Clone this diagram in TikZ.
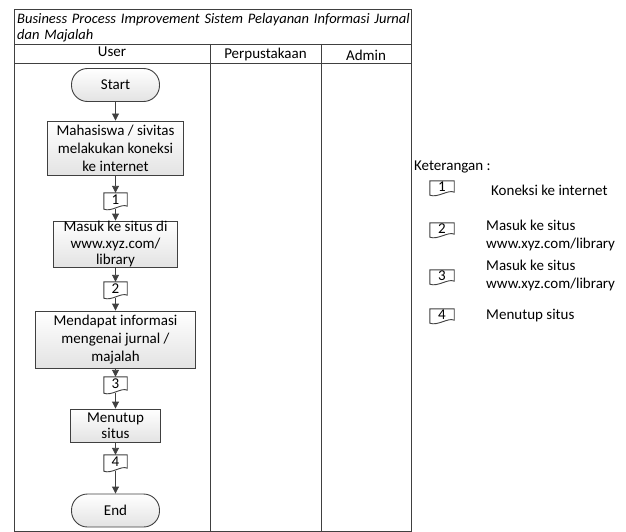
\documentclass[tikz,border=0pt]{standalone}
\usepackage{fontspec}
\setmainfont{Carlito}
\usetikzlibrary{arrows.meta}
\definecolor{lineclr}{HTML}{404040}
\definecolor{fillbot}{HTML}{E3E3E3}
\tikzset{
  body/.style={font=\fontsize{15}{18}\selectfont},
  lane/.style={draw=lineclr, line width=0.9pt},
  procbox/.style={body, draw=lineclr, line width=0.9pt, top color=white, bottom color=fillbot,
    inner sep=0pt, align=center},
  terminal/.style={procbox, rounded corners=16pt, minimum width=88pt, minimum height=33pt},
  docbox/.style={inner sep=0pt, minimum width=23pt, minimum height=16pt,
    font=\fontsize{15}{16}\selectfont},
  docline/.style={draw=lineclr, line width=0.9pt, fill=white},
  flow/.style={draw=lineclr, line width=0.9pt, -{Triangle[length=7pt,width=7pt]}},
}
% outline of the small document symbol around a named node
\newcommand\docoutline[1]{%
  \path[docline] (#1.north west) -- (#1.north east) -- ([yshift=3pt]#1.south east)
    .. controls ([xshift=-6pt,yshift=6pt]#1.south east) and ([xshift=8pt,yshift=-3pt]#1.south west)
    .. (#1.south west) -- cycle;}
\begin{document}
\begin{tikzpicture}[x=1pt,y=-1pt]
\useasboundingbox (0,0) rectangle (626,532);

% swimlane frame
\draw[lane] (14,9) rectangle (411,531);
\draw[lane] (14,44) -- (411,44);
\draw[lane] (14,63) -- (411,63);
\draw[lane] (210,44) -- (210,531);
\draw[lane] (321,44) -- (321,531);

\node[anchor=north west, inner sep=0pt, text width=394pt, align=left,
      font=\fontsize{14.5}{16.5}\selectfont\itshape] (title) at (17,13)
  {Business Process Improvement Sistem Pelayanan Informasi Jurnal dan Majalah};
\node[body] (hUser) at (112,52) {User};
\node[body] (hPerpus) at (265.5,55) {Perpustakaan};
\node[body] (hAdmin) at (366,55) {Admin};

% flow in the User lane
\node[terminal] (start) at (115.5,85) {Start};
\node[procbox, minimum width=136pt, minimum height=54pt] (b1) at (115.5,148)
  {Mahasiswa / sivitas\\melakukan koneksi\\ke internet};
\node[docbox] (d1) at (115.5,201) {};
\docoutline{d1}
\node[docbox] at (115.5,200) {1};
\node[procbox, minimum width=124pt, minimum height=46pt,
      font=\fontsize{15}{16.5}\selectfont] (b2) at (115.5,244)
  {Masuk ke situs di\\www.xyz.com/\\library};
\node[docbox] (d2) at (115.5,290) {};
\docoutline{d2}
\node[docbox] at (115.5,289) {2};
\node[procbox, minimum width=160pt, minimum height=57pt] (b3) at (115.5,339.5)
  {Mendapat informasi\\mengenai jurnal /\\majalah};
\node[docbox] (d3) at (115.5,385) {};
\docoutline{d3}
\node[docbox] at (115.5,384) {3};
\node[procbox, minimum width=90pt, minimum height=33pt,
      font=\fontsize{15}{16}\selectfont] (b4) at (115.5,425.5)
  {Menutup\\situs};
\node[docbox] (d4) at (115.5,463) {};
\docoutline{d4}
\node[docbox] at (115.5,462) {4};
\node[terminal] (end) at (115.5,510.5) {End};

\draw[flow] (start) -- (b1);
\draw[flow] (b1) -- (d1);
\draw[flow] (d1.south) -- (b2);
\draw[flow] (b2) -- (d2);
\draw[flow] (d2.south) -- (b3);
\draw[flow] (b3) -- (d3);
\draw[flow] (d3.south) -- (b4);
\draw[flow] (b4) -- (d4);
\draw[flow] (d4.south) -- (end);

% legend
\node[body, anchor=west, inner sep=0pt] (ket) at (414,167) {Keterangan :};
\node[docbox, minimum width=24pt, minimum height=14pt] (l1) at (442,188) {};
\docoutline{l1}
\node[docbox] at (442,187) {1};
\node[body, anchor=west, inner sep=0pt] (t1) at (491,190) {Koneksi ke internet};
\node[docbox, minimum width=24pt, minimum height=14pt] (l2) at (442,230) {};
\docoutline{l2}
\node[docbox] at (442,229) {2};
\node[body, anchor=west, inner sep=0pt, align=left] (t2) at (486,235)
  {Masuk ke situs\\www.xyz.com/library};
\node[docbox, minimum width=24pt, minimum height=14pt] (l3) at (442,277) {};
\docoutline{l3}
\node[docbox] at (442,276) {3};
\node[body, anchor=west, inner sep=0pt, align=left] (t3) at (486,275.5)
  {Masuk ke situs\\www.xyz.com/library};
\node[docbox, minimum width=24pt, minimum height=14pt] (l4) at (442,316) {};
\docoutline{l4}
\node[docbox] at (442,315) {4};
\node[body, anchor=west, inner sep=0pt] (t4) at (486,316) {Menutup situs};
\end{tikzpicture}
\end{document}
